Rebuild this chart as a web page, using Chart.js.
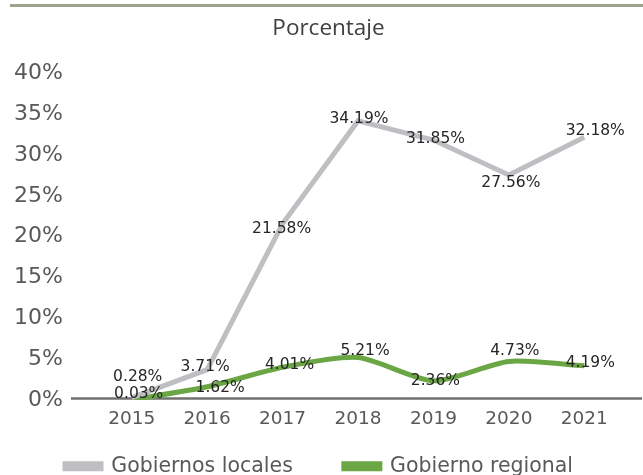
<!DOCTYPE html>
<html>
<head>
<meta charset="utf-8">
<script src="https://cdn.jsdelivr.net/npm/chart.js@4"></script>
<style>
  html, body { margin: 0; padding: 0; background: #fff; }
  #wrap { position: relative; width: 643px; height: 475px; }
  #rule { position: absolute; left: 10px; top: 4px; width: 633px; height: 3px; background: #9ca38e; }
</style>
</head>
<body>
<div id="wrap">
  <div id="rule"></div>
  <canvas id="myChart" width="643" height="475"></canvas>
</div>
<script>
const years = ['2015', '2016', '2017', '2018', '2019', '2020', '2021'];
const locales = [0.28, 3.71, 21.58, 34.19, 31.85, 27.56, 32.18];
const regional = [0.03, 1.62, 4.01, 5.21, 2.36, 4.73, 4.19];
const yTicks = [0, 5, 10, 15, 20, 25, 30, 35, 40];

// desplazamiento manual de cada etiqueta (como en el original)
const labelShift = [
  [[6, -21], [-2, -3], [-1, 5], [1, -2], [2, -1], [2, 8], [11, -6]],
  [[7, -6], [13, 1], [7, -2], [7, -7], [2, 0], [6, -10], [6, -3]]
];

const ctx = document.getElementById('myChart');

const valueLabels = {
  id: 'valueLabels',
  afterDatasetsDraw(chart) {
    const c = chart.ctx;
    c.save();
    c.font = '15.5px "DejaVu Sans"';
    c.fillStyle = '#262626';
    c.textAlign = 'center';
    c.textBaseline = 'middle';
    chart.data.datasets.forEach((ds, i) => {
      chart.getDatasetMeta(i).data.forEach((pt, j) => {
        const s = labelShift[i][j];
        c.fillText(ds.data[j].toFixed(2) + '%', pt.x + s[0], pt.y + s[1]);
      });
    });
    c.restore();
  }
};

// línea del eje horizontal, más larga que el área del gráfico
const baseLine = {
  id: 'baseLine',
  beforeDatasetsDraw(chart) {
    const c = chart.ctx;
    const y = chart.scales.y.getPixelForValue(0) - 1.5;
    c.save();
    c.strokeStyle = '#707070';
    c.lineWidth = 2.5;
    c.beginPath();
    c.moveTo(chart.chartArea.left - 23, y);
    c.lineTo(chart.width - 1, y);
    c.stroke();
    c.restore();
  }
};

new Chart(ctx, {
  type: 'line',
  data: {
    labels: years,
    datasets: [
      {
        label: 'Gobiernos locales',
        data: locales,
        borderColor: '#bfbfc3',
        backgroundColor: '#bfbfc3',
        borderWidth: 5,
        pointRadius: 0,
        tension: 0
      },
      {
        label: 'Gobierno regional',
        data: regional,
        borderColor: '#6aa744',
        backgroundColor: '#6aa744',
        borderWidth: 5,
        pointRadius: 0,
        tension: 0.25
      }
    ]
  },
  options: {
    responsive: false,
    animation: false,
    layout: { padding: { top: 0, right: 0, bottom: 0, left: 14 } },
    plugins: {
      title: {
        display: true,
        text: 'Porcentaje',
        color: '#404040',
        font: { family: 'Open Sans', size: 22.5, weight: 'normal' },
        padding: { top: 15.5, bottom: 31 }
      },
      legend: {
        position: 'bottom',
        align: 'start',
        maxHeight: 70,
        labels: {
          color: '#595959',
          font: { family: 'DejaVu Sans', size: 20.5 },
          boxWidth: 36,
          boxHeight: 5,
          padding: 51
        }
      },
      tooltip: { enabled: false }
    },
    scales: {
      x: {
        offset: true,
        afterFit(scale) { scale.height = 5; },
        grid: { display: false },
        border: { display: false },
        ticks: {
          color: '#595959',
          font: { family: 'DejaVu Sans', size: 18.5 },
          mirror: true,
          padding: -30
        }
      },
      y: {
        min: 0,
        max: 40,
        afterFit(scale) { scale.width = 80; },
        afterBuildTicks(scale) { scale.ticks = yTicks.map(v => ({ value: v })); },
        grid: { display: false },
        border: { display: false },
        ticks: {
          color: '#595959',
          font: { family: 'DejaVu Sans', size: 22 },
          padding: 23,
          callback: v => v + '%'
        }
      },
      // eje vacío a la derecha, solo reserva margen
      yr: {
        type: 'linear',
        position: 'right',
        afterFit(scale) { scale.width = 21; },
        grid: { display: false },
        border: { display: false },
        ticks: { display: false }
      }
    }
  },
  plugins: [baseLine, valueLabels]
});
</script>
</body>
</html>
